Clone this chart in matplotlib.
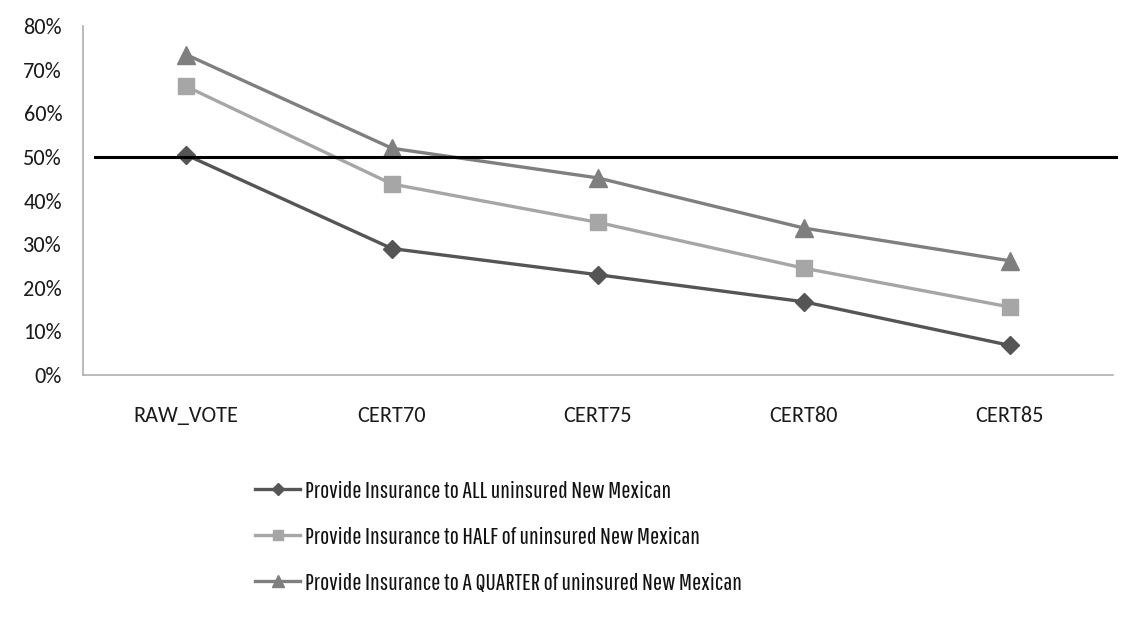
import matplotlib
matplotlib.use("Agg")
import matplotlib.pyplot as plt
from matplotlib import font_manager
from matplotlib.ticker import PercentFormatter
from matplotlib.textpath import TextPath
from matplotlib.font_manager import FontProperties

categories = ["RAW_VOTE", "CERT70", "CERT75", "CERT80", "CERT85"]
all_vals = [50.5, 29.0, 23.0, 16.8, 6.8]
half_vals = [66.2, 43.8, 35.0, 24.5, 15.6]
quarter_vals = [73.5, 52.0, 45.2, 33.7, 26.2]
labels = ["Provide Insurance to ALL uninsured New Mexican",
          "Provide Insurance to HALF of uninsured New Mexican",
          "Provide Insurance to A QUARTER of uninsured New Mexican"]
threshold = 50
yticks = [0, 10, 20, 30, 40, 50, 60, 70, 80]

installed = {f.name for f in font_manager.fontManager.ttflist}
def pick(cands):
    return [c for c in cands if c in installed][:1]

tick_font = pick(['Carlito', 'Calibri', 'Lato', 'Liberation Sans'])
plt.rcParams['font.family'] = tick_font + ['DejaVu Sans']

# choose a narrow legend font whose width/cap-height ratio is closest to the reference
cands = ['Fira Sans Extra Condensed', 'Sofia Sans Extra Condensed', 'Sofia Sans Condensed',
         'Saira Extra Condensed', 'Saira Condensed', 'Barlow Condensed', 'Barlow Semi Condensed',
         'Roboto Condensed', 'PT Sans Narrow', 'Archivo Narrow', 'Encode Sans Condensed',
         'Encode Sans Compressed', 'Asap Condensed', 'IBM Plex Sans Condensed',
         'Open Sans Condensed', 'Ubuntu Condensed', 'Cabin Condensed', 'Pathway Gothic One',
         'Yanone Kaffeesatz', 'Liberation Sans Narrow', 'Fira Sans Condensed']
target_ratio = 365 / 17.0
best, best_err, best_w, best_cap = None, 1e9, None, None
for c in cands:
    if c not in installed:
        continue
    try:
        p = FontProperties(family=[c], size=20)
        w = TextPath((0, 0), labels[0], prop=p).get_extents().width
        cap = TextPath((0, 0), "H", prop=p).get_extents().height
        err = abs(w / cap - target_ratio)
        if err < best_err:
            best, best_err, best_w, best_cap = c, err, w, cap
    except Exception:
        pass
legend_family = ([best] if best else []) + tick_font + ['DejaVu Sans']
if best:
    s_w = 20 * 365 / (best_w * 100 / 72)
    s_h = 20 * 17 / (best_cap * 100 / 72)
    lsize = (s_w + s_h) / 2
else:
    lsize = 13

fig = plt.figure(figsize=(11.31, 6.23), dpi=100)
ax = fig.add_axes([0.0734, 0.398, 0.9106, 0.56])
x = list(range(len(categories)))

ax.plot(x, all_vals, color='#555555', lw=2.4, marker='D', ms=9, label=labels[0])
ax.plot(x, half_vals, color='#a6a6a6', lw=2.4, marker='s', ms=12, label=labels[1])
ax.plot(x, quarter_vals, color='#7f7f7f', lw=2.4, marker='^', ms=13, label=labels[2])
ax.axhline(threshold, xmin=0.012, xmax=1.003, color='black', lw=2.2, clip_on=False)

ax.set_xlim(-0.5, 4.5)
ax.set_ylim(0, 80)
ax.set_yticks(yticks)
ax.yaxis.set_major_formatter(PercentFormatter(decimals=0))
ax.set_xticks(x)
ax.set_xticklabels(categories)
ax.tick_params(length=0, labelsize=16, labelcolor='#1a1a1a')
ax.tick_params(axis='x', pad=22)
ax.tick_params(axis='y', pad=15)
for s in ['top', 'right']:
    ax.spines[s].set_visible(False)
for s in ['left', 'bottom']:
    ax.spines[s].set_color('#b0b0b0')
    ax.spines[s].set_linewidth(1.2)

px_per_em = lsize * 100 / 72
h, l = ax.get_legend_handles_labels()
fig.legend(h, l, loc='center left', bbox_to_anchor=(0.2255, (623 - 537) / 623),
           frameon=False,
           prop=FontProperties(family=legend_family, size=lsize),
           labelspacing=(49 - px_per_em) / px_per_em,
           handlelength=45 / px_per_em, handletextpad=5 / px_per_em,
           borderaxespad=0, borderpad=0, markerscale=0.65,
           labelcolor='#111111')

fig.savefig("out.png", dpi=100)
